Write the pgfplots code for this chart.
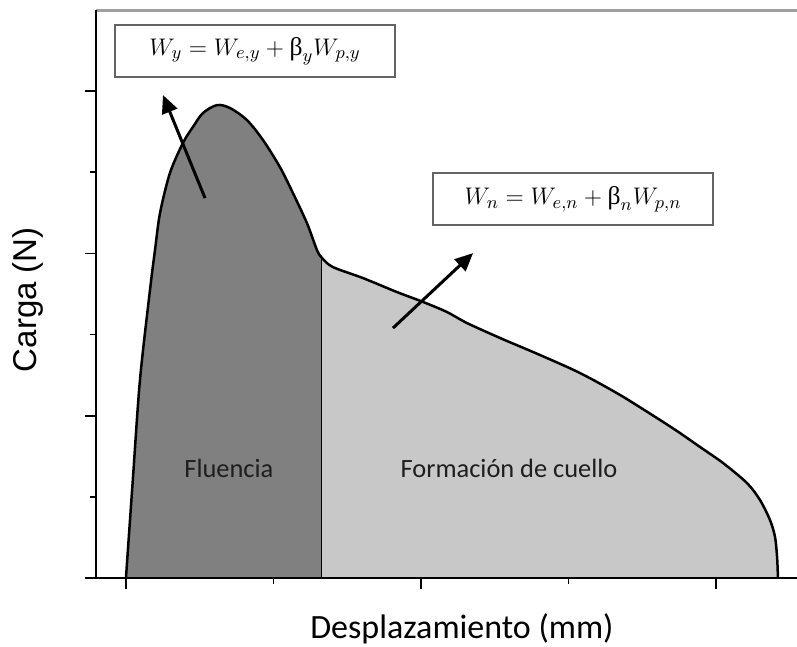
\documentclass[border=0pt]{standalone}
\usepackage{pgfplots}
\pgfplotsset{compat=1.18}
\usepackage{fontspec}
\setmainfont{Carlito}
\newfontfamily\arialf{Liberation Sans}
\newfontfamily\serifg{Liberation Serif}
\usetikzlibrary{arrows.meta}
\definecolor{darkfill}{RGB}{128,128,128}
\definecolor{lightfill}{RGB}{200,200,200}
\definecolor{boxgray}{RGB}{100,100,100}
\definecolor{topgray}{RGB}{160,160,160}
\definecolor{txt}{RGB}{30,30,30}
\begin{document}
\begin{tikzpicture}
\path[use as bounding box] (-48pt,-34.5pt) rectangle (350.5pt,289pt);
\begin{axis}[
  at={(0,0)}, anchor=south west,
  scale only axis, width=350.5pt, height=284pt,
  xmin=-0.203, xmax=4.549, ymin=0, ymax=3.5,
  axis lines*=left,
  axis line style={black, line width=1pt},
  xtick={0,2,4}, minor xtick={1,3},
  ytick={0,1,2,3}, minor ytick={0.5,1.5,2.5},
  xticklabels={}, yticklabels={},
  tick align=outside,
  major tick length=5.5pt, minor tick length=3pt,
  tick style={black, line width=0.8pt},
  clip=false, axis on top,
  xlabel={\fontsize{17}{20}\selectfont Desplazamiento (mm)},
  xlabel style={at={(rel axis cs:0.522,-0.089)}, anchor=center},
  ylabel={\arialf\fontsize{16.5}{19}\selectfont Carga (N)},
  ylabel style={at={(rel axis cs:-0.097,0.49)}, anchor=center},
]
% yield region
\addplot[smooth, fill=darkfill, draw=none] coordinates {
(0,0) (0.047,0.61) (0.095,1.220) (0.163,1.775) (0.197,2.021) (0.231,2.249) (0.298,2.495)
(0.386,2.680) (0.454,2.779) (0.522,2.865) (0.617,2.914) (0.705,2.896) (0.820,2.822)
(0.929,2.699) (1.044,2.532) (1.132,2.372) (1.227,2.187) (1.295,2.021) (1.329,1.972)
} \closedcycle;
% necking region
\addplot[smooth, fill=lightfill, draw=none] coordinates {
(1.329,1.972) (1.403,1.916) (1.607,1.848) (1.837,1.762) (2.014,1.701) (2.176,1.639)
(2.312,1.571) (2.536,1.479) (2.807,1.374) (3.078,1.263) (3.349,1.128) (3.620,0.974)
(3.756,0.893) (3.892,0.807) (4.047,0.709) (4.210,0.585) (4.298,0.481) (4.366,0.357)
(4.400,0.253) (4.414,0.129) (4.420,0)
} \closedcycle;
% divider
\addplot[black, line width=0.5pt] coordinates {(1.329,0) (1.329,1.972)};
% curve
\addplot[smooth, black, line width=1.25pt] coordinates {
(0,0) (0.047,0.61) (0.095,1.220) (0.163,1.775) (0.197,2.021) (0.231,2.249) (0.298,2.495)
(0.386,2.680) (0.454,2.779) (0.522,2.865) (0.617,2.914) (0.705,2.896) (0.820,2.822)
(0.929,2.699) (1.044,2.532) (1.132,2.372) (1.227,2.187) (1.295,2.021) (1.329,1.972)
(1.403,1.916) (1.607,1.848) (1.837,1.762) (2.014,1.701) (2.176,1.639)
(2.312,1.571) (2.536,1.479) (2.807,1.374) (3.078,1.263) (3.349,1.128) (3.620,0.974)
(3.756,0.893) (3.892,0.807) (4.047,0.709) (4.210,0.585) (4.298,0.481) (4.366,0.357)
(4.400,0.253) (4.414,0.129) (4.420,0)
};
% top border
\draw[topgray, line width=1.5pt] (rel axis cs:0,1) -- (rel axis cs:1,1);
% labels
\node[txt, font=\fontsize{13.2}{16}\selectfont] at (axis cs:0.698,0.678) {Fluencia};
\node[txt, font=\fontsize{13.2}{16}\selectfont] at (axis cs:2.597,0.678) {Formación de cuello};
% equation boxes
\node[draw=boxgray, line width=1pt, fill=white, minimum width=140pt, minimum height=26pt, inner sep=0pt,
  font=\fontsize{12.8}{15}\selectfont] at (axis cs:0.875,3.247)
  {$W_y = W_{e,y} + \mbox{\serifg β}_y W_{p,y}$};
\node[draw=boxgray, line width=1pt, fill=white, minimum width=140pt, minimum height=26pt, inner sep=0pt,
  font=\fontsize{12.8}{15}\selectfont] at (axis cs:3.031,2.335)
  {$W_n = W_{e,n} + \mbox{\serifg β}_n W_{p,n}$};
% arrows
\draw[black, line width=1.5pt, -{Triangle[length=9pt, width=8pt]}] (axis cs:0.536,2.341) -- (axis cs:0.251,2.976);
\draw[black, line width=1.5pt, -{Triangle[length=9pt, width=8pt]}] (axis cs:1.810,1.540) -- (axis cs:2.353,2.002);
\end{axis}
\end{tikzpicture}
\end{document}
